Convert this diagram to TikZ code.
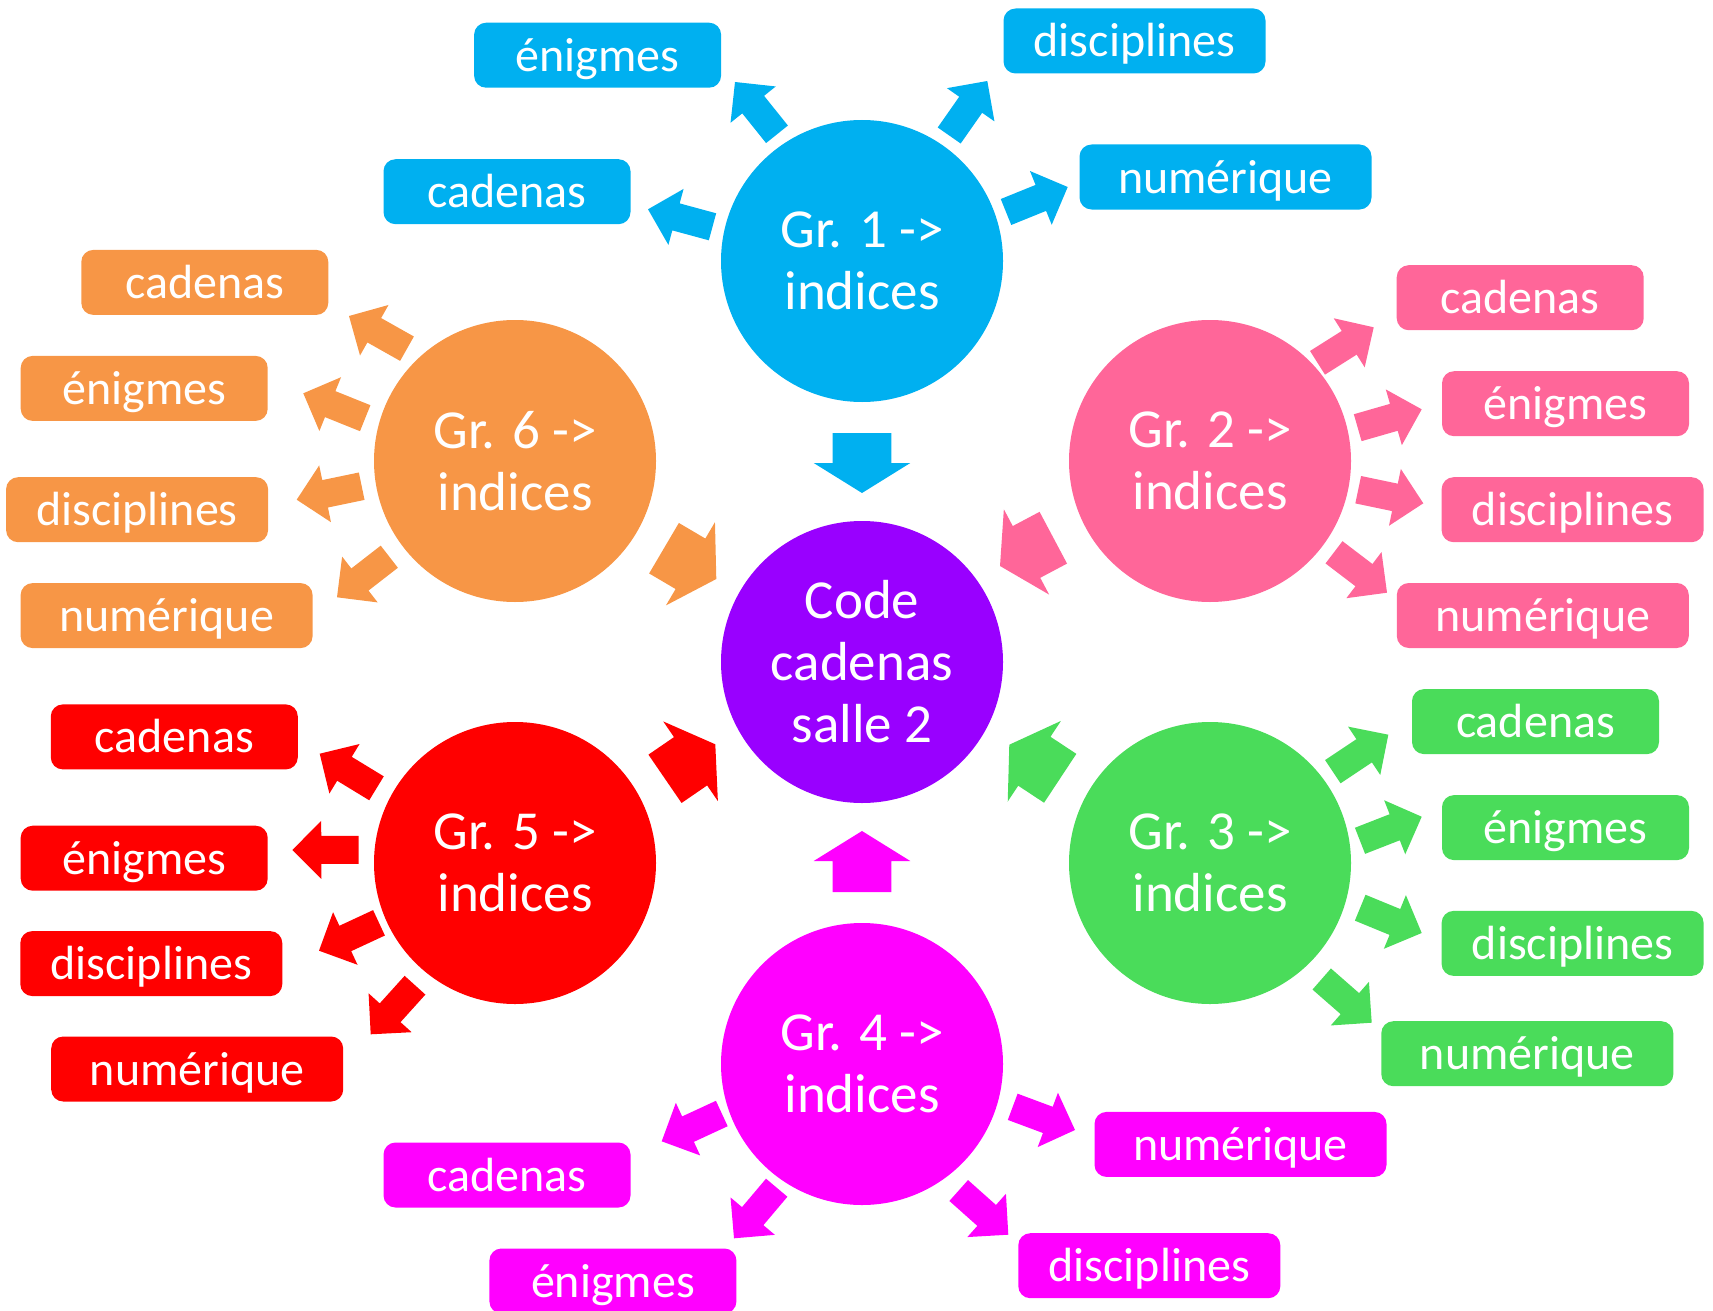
\documentclass[tikz,border=0pt]{standalone}
\usepackage{fontspec}
\setmainfont{Carlito}
\usetikzlibrary{calc}
\definecolor{cblue}{HTML}{00B0F0}
\definecolor{cpink}{HTML}{FF6699}
\definecolor{cgreen}{HTML}{4ADC5A}
\definecolor{cmag}{HTML}{FF00FF}
\definecolor{cred}{HTML}{FF0000}
\definecolor{corange}{HTML}{F79646}
\definecolor{cpurple}{HTML}{9900FF}
\tikzset{
  grp/.style={circle, fill=#1, minimum size=282pt, inner sep=0pt, text=white,
    align=center, font=\fontsize{55}{62}\selectfont},
  tag/.style={rounded corners=12pt, fill=#1, minimum height=65pt, inner sep=0pt,
    text=white, text height=42pt, text depth=10pt, font=\fontsize{48}{57}\selectfont},
  wA/.style={minimum width=247pt},
  wD/.style={minimum width=262pt},
  wN/.style={minimum width=292pt},
}
% color, tail, tip, shaft half width, head half width, head length
\newcommand{\blockarr}[6]{%
  \coordinate (bS) at #2; \coordinate (bT) at #3;
  \coordinate (bH) at ($(bT)!#6!(bS)$);
  \fill[#1] ($(bS)!#4!90:(bT)$) -- ($(bH)!#4!90:(bT)$) -- ($(bH)!#5!90:(bT)$) -- (bT)
    -- ($(bH)!#5!-90:(bT)$) -- ($(bH)!#4!-90:(bT)$) -- ($(bS)!#4!-90:(bT)$) -- cycle;}
\newcommand{\smallarr}[3]{\blockarr{#1}{#2}{#3}{14pt}{29pt}{29pt}}
\newcommand{\bigarr}[3]{\blockarr{#1}{#2}{#3}{29.3pt}{48.3pt}{30pt}}
\begin{document}
\begin{tikzpicture}[x=1pt,y=-1pt]
\useasboundingbox (0,0) rectangle (1713,1311);
% circles
\node[grp=cpurple] (center) at (862,662) {Code\\cadenas\\salle 2};
\node[grp=cblue] (g1) at (862,261) {Gr. 1 ->\\indices};
\node[grp=cpink] (g2) at (1210,461) {Gr. 2 ->\\indices};
\node[grp=cgreen] (g3) at (1210,863) {Gr. 3 ->\\indices};
\node[grp=cmag] (g4) at (862,1064) {Gr. 4 ->\\indices};
\node[grp=cred] (g5) at (515,863) {Gr. 5 ->\\indices};
\node[grp=corange] (g6) at (515,461) {Gr. 6 ->\\indices};
% boxes group 1
\node[tag=cblue, wA] (g1e) at (597.6,55.2) {énigmes};
\node[tag=cblue, wD] (g1d) at (1134.5,41) {disciplines};
\node[tag=cblue, wA] (g1c) at (507,191.7) {cadenas};
\node[tag=cblue, wN] (g1n) at (1225.5,177) {numérique};
% group 2
\node[tag=cpink, wA] (g2c) at (1520.2,297.7) {cadenas};
\node[tag=cpink, wA] (g2e) at (1565.5,403.7) {énigmes};
\node[tag=cpink, wD] (g2d) at (1572.6,509.7) {disciplines};
\node[tag=cpink, wN] (g2n) at (1542.8,615.5) {numérique};
% group 3
\node[tag=cgreen, wA] (g3c) at (1535.5,721.6) {cadenas};
\node[tag=cgreen, wA] (g3e) at (1565.5,827.6) {énigmes};
\node[tag=cgreen, wD] (g3d) at (1572.6,943.4) {disciplines};
\node[tag=cgreen, wN] (g3n) at (1527.3,1053.7) {numérique};
% group 4
\node[tag=cmag, wN] (g4n) at (1240.5,1144.4) {numérique};
\node[tag=cmag, wA] (g4c) at (507,1175) {cadenas};
\node[tag=cmag, wD] (g4d) at (1149.3,1265.7) {disciplines};
\node[tag=cmag, wA] (g4e) at (612.9,1281) {énigmes};
% group 5
\node[tag=cred, wA] (g5c) at (174.3,736.9) {cadenas};
\node[tag=cred, wA] (g5e) at (144.2,858.2) {énigmes};
\node[tag=cred, wD] (g5d) at (151.3,963.6) {disciplines};
\node[tag=cred, wN] (g5n) at (197.2,1069) {numérique};
% group 6
\node[tag=corange, wA] (g6c) at (204.8,282.4) {cadenas};
\node[tag=corange, wA] (g6e) at (144.2,388.4) {énigmes};
\node[tag=corange, wD] (g6d) at (137.1,509.7) {disciplines};
\node[tag=corange, wN] (g6n) at (166.6,615.6) {numérique};
% arrows group 1
\smallarr{cblue}{(777,134.3)}{(735,82)}
\smallarr{cblue}{(949.2,135.5)}{(987.3,81)}
\smallarr{cblue}{(712.5,226.8)}{(648,209.3)}
\smallarr{cblue}{(1006,212)}{(1067.7,187)}
\bigarr{cblue}{(862,433)}{(862,493)}
% group 2
\smallarr{cpink}{(1317.5,362.8)}{(1373.7,327.3)}
\smallarr{cpink}{(1357.7,427.7)}{(1421.7,409.3)}
\smallarr{cpink}{(1358.2,489.7)}{(1423.3,503.3)}
\smallarr{cpink}{(1334,552.3)}{(1387,592.7)}
\bigarr{cpink}{(1053.3,537.7)}{(1000,566)}
% group 3
\smallarr{cgreen}{(1332.8,771.7)}{(1388.3,734.7)}
\smallarr{cgreen}{(1360,840.8)}{(1421.7,816.7)}
\smallarr{cgreen}{(1360.2,907.7)}{(1421.7,933)}
\smallarr{cgreen}{(1321.7,979)}{(1371.7,1022.7)}
\bigarr{cgreen}{(1060.2,778.3)}{(1009.3,744.7)}
% group 4
\smallarr{cmag}{(721.8,1113.5)}{(661.7,1141.3)}
\smallarr{cmag}{(776.7,1187.7)}{(734,1238.3)}
\smallarr{cmag}{(1012.7,1106.8)}{(1075,1130)}
\smallarr{cmag}{(958.7,1190.5)}{(1008.3,1234.7)}
\bigarr{cmag}{(862,892)}{(862,831)}
% group 5
\smallarr{cred}{(376.5,788.3)}{(319.7,753.7)}
\smallarr{cred}{(358.7,849.8)}{(292.3,850)}
\smallarr{cred}{(379,922.8)}{(319,950.7)}
\smallarr{cred}{(415,985.2)}{(370.7,1034.3)}
\bigarr{cred}{(665,778.8)}{(715.3,744.3)}
% group 6
\smallarr{corange}{(407,348.7)}{(349,316)}
\smallarr{corange}{(365.2,418.2)}{(303.3,393.3)}
\smallarr{corange}{(361.7,486.2)}{(296.7,499.7)}
\smallarr{corange}{(389.3,556.7)}{(337,597.3)}
\bigarr{corange}{(664,548.2)}{(716.3,579)}
\end{tikzpicture}
\end{document}
